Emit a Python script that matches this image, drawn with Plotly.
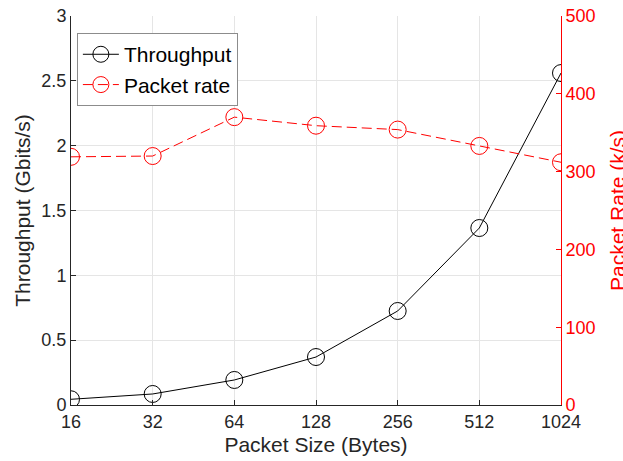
import plotly.graph_objects as go

packet_sizes = [16, 32, 64, 128, 256, 512, 1024]
throughput = [0.044, 0.085, 0.193, 0.37, 0.725, 1.365, 2.56]
packet_rate = [319, 320, 370, 359, 354, 333, 312]
x_ticks = [16, 32, 64, 128, 256, 512, 1024]
y1_ticks = [0, 0.5, 1, 1.5, 2, 2.5, 3]
y1_labels = ["0", "0.5", "1", "1.5", "2", "2.5", "3"]
y2_ticks = [0, 100, 200, 300, 400, 500]

FONT = "Liberation Sans, Arial, Helvetica, sans-serif"
DARK = "#262626"
RED = "#ff0000"

fig = go.Figure()
fig.add_trace(go.Scatter(
    x=packet_sizes, y=throughput, name="Throughput", mode="lines+markers",
    line=dict(color="black", width=1),
    marker=dict(symbol="circle-open", size=17, color="black", line=dict(width=1)),
))
fig.add_trace(go.Scatter(
    x=packet_sizes, y=packet_rate, name="Packet rate", mode="lines+markers", yaxis="y2",
    line=dict(color=RED, width=1, dash="10px,5px"),
    marker=dict(symbol="circle-open", size=17, color=RED, line=dict(width=1)),
))

fig.update_layout(
    width=623, height=461,
    margin=dict(l=71, r=62, t=16, b=56, autoexpand=False),
    paper_bgcolor="white", plot_bgcolor="white",
    font=dict(family=FONT, size=18, color=DARK),
    showlegend=True,
    legend=dict(
        x=0.012, y=0.956, xanchor="left", yanchor="top",
        bgcolor="white", bordercolor="#8c8c8c", borderwidth=1,
        font=dict(size=21, color="black"),
        tracegroupgap=0, itemwidth=36,
    ),
    xaxis=dict(
        type="log", range=[1.2041, 3.0103], automargin=False,
        tickvals=x_ticks, ticktext=[str(v) for v in x_ticks],
        ticks="inside", ticklen=5, tickcolor=DARK,
        showline=True, linecolor=DARK, linewidth=1, mirror=False,
        showgrid=True, gridcolor="#e5e5e5", gridwidth=1,
        zeroline=False, ticklabeloverflow="allow",
        title=dict(text="Packet Size (Bytes)", font=dict(size=21, color=DARK), standoff=6),
        tickfont=dict(size=18, color=DARK),
    ),
    yaxis=dict(
        range=[0, 3], tickvals=y1_ticks, ticktext=y1_labels, automargin=False,
        ticks="inside", ticklen=5, tickcolor=DARK,
        showline=True, linecolor=DARK, linewidth=1,
        showgrid=True, gridcolor="#e5e5e5", gridwidth=1,
        zeroline=False, ticklabeloverflow="allow",
        title=dict(text="Throughput (Gbits/s)", font=dict(size=21, color=DARK), standoff=5),
        tickfont=dict(size=18, color=DARK),
    ),
    yaxis2=dict(
        overlaying="y", side="right", range=[0, 500], tickvals=y2_ticks, automargin=False,
        ticks="inside", ticklen=5, tickcolor=RED,
        showline=True, linecolor=RED, linewidth=1,
        showgrid=False, zeroline=False, ticklabeloverflow="allow",
        tickfont=dict(size=18, color=RED),
    ),
    annotations=[dict(
        text="Packet Rate (k/s)", xref="paper", yref="paper", x=1, y=0.5,
        xanchor="left", yanchor="middle", xshift=43, textangle=-90,
        showarrow=False, font=dict(size=21, color=RED, family=FONT),
    )],
)

fig.write_html("out.html", config={"displayModeBar": False},
               post_script="document.body.style.margin='0px';")
